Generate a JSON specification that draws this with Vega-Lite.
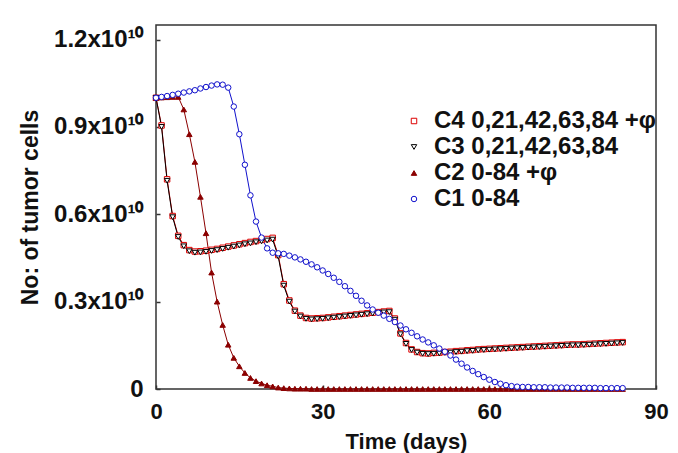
{
  "$schema": "https://vega.github.io/schema/vega-lite/v6.json",
  "width": 500,
  "height": 364,
  "autosize": {"type": "none"},
  "padding": {"left": 156, "top": 25, "right": 22, "bottom": 64},
  "background": "white",
  "config": {
    "view": {"stroke": "#333333", "strokeWidth": 1.5},
    "font": "Liberation Sans",
    "axis": {
      "domain": false,
      "grid": false,
      "labelFont": "Liberation Sans",
      "labelFontWeight": "bold",
      "labelColor": "#111111",
      "titleFont": "Liberation Sans",
      "titleFontWeight": "bold",
      "titleColor": "#111111",
      "tickColor": "#333333",
      "tickSize": -4,
      "tickWidth": 1.5
    },
    "legend": {
      "labelFont": "Liberation Sans",
      "labelFontWeight": "bold",
      "labelFontSize": 24,
      "labelColor": "#111111",
      "labelOffset": 8,
      "labelLimit": 0,
      "rowPadding": 2,
      "symbolSize": 30,
      "symbolStrokeWidth": 1
    }
  },
  "data": {"values": [
{"s":"C4","t":0,"v":1.000},{"s":"C4","t":1,"v":0.905},{"s":"C4","t":2,"v":0.720},{"s":"C4","t":3,"v":0.594},{"s":"C4","t":4,"v":0.526},{"s":"C4","t":5,"v":0.494},{"s":"C4","t":6,"v":0.477},{"s":"C4","t":7,"v":0.472},{"s":"C4","t":8,"v":0.473},{"s":"C4","t":9,"v":0.475},{"s":"C4","t":10,"v":0.478},{"s":"C4","t":11,"v":0.481},{"s":"C4","t":12,"v":0.485},{"s":"C4","t":13,"v":0.489},{"s":"C4","t":14,"v":0.493},{"s":"C4","t":15,"v":0.497},{"s":"C4","t":16,"v":0.501},{"s":"C4","t":17,"v":0.505},{"s":"C4","t":18,"v":0.508},{"s":"C4","t":19,"v":0.512},{"s":"C4","t":20,"v":0.515},{"s":"C4","t":21,"v":0.519},{"s":"C4","t":22,"v":0.460},{"s":"C4","t":23,"v":0.360},{"s":"C4","t":24,"v":0.304},{"s":"C4","t":25,"v":0.269},{"s":"C4","t":26,"v":0.252},{"s":"C4","t":27,"v":0.244},{"s":"C4","t":28,"v":0.242},{"s":"C4","t":29,"v":0.243},{"s":"C4","t":30,"v":0.244},{"s":"C4","t":31,"v":0.246},{"s":"C4","t":32,"v":0.248},{"s":"C4","t":33,"v":0.250},{"s":"C4","t":34,"v":0.252},{"s":"C4","t":35,"v":0.254},{"s":"C4","t":36,"v":0.256},{"s":"C4","t":37,"v":0.258},{"s":"C4","t":38,"v":0.260},{"s":"C4","t":39,"v":0.262},{"s":"C4","t":40,"v":0.264},{"s":"C4","t":41,"v":0.266},{"s":"C4","t":42,"v":0.268},{"s":"C4","t":43,"v":0.242},{"s":"C4","t":44,"v":0.191},{"s":"C4","t":45,"v":0.158},{"s":"C4","t":46,"v":0.136},{"s":"C4","t":47,"v":0.127},{"s":"C4","t":48,"v":0.123},{"s":"C4","t":49,"v":0.122},{"s":"C4","t":50,"v":0.124},{"s":"C4","t":51,"v":0.125},{"s":"C4","t":52,"v":0.127},{"s":"C4","t":53,"v":0.128},{"s":"C4","t":54,"v":0.130},{"s":"C4","t":55,"v":0.131},{"s":"C4","t":56,"v":0.133},{"s":"C4","t":57,"v":0.134},{"s":"C4","t":58,"v":0.136},{"s":"C4","t":59,"v":0.137},{"s":"C4","t":60,"v":0.138},{"s":"C4","t":61,"v":0.139},{"s":"C4","t":62,"v":0.140},{"s":"C4","t":63,"v":0.141},{"s":"C4","t":64,"v":0.142},{"s":"C4","t":65,"v":0.143},{"s":"C4","t":66,"v":0.144},{"s":"C4","t":67,"v":0.145},{"s":"C4","t":68,"v":0.146},{"s":"C4","t":69,"v":0.147},{"s":"C4","t":70,"v":0.148},{"s":"C4","t":71,"v":0.149},{"s":"C4","t":72,"v":0.150},{"s":"C4","t":73,"v":0.151},{"s":"C4","t":74,"v":0.152},{"s":"C4","t":75,"v":0.153},{"s":"C4","t":76,"v":0.153},{"s":"C4","t":77,"v":0.154},{"s":"C4","t":78,"v":0.155},{"s":"C4","t":79,"v":0.156},{"s":"C4","t":80,"v":0.157},{"s":"C4","t":81,"v":0.158},{"s":"C4","t":82,"v":0.159},{"s":"C4","t":83,"v":0.160},{"s":"C4","t":84,"v":0.161},
{"s":"C3","t":0,"v":1.000},{"s":"C3","t":1,"v":0.900},{"s":"C3","t":2,"v":0.715},{"s":"C3","t":3,"v":0.590},{"s":"C3","t":4,"v":0.522},{"s":"C3","t":5,"v":0.490},{"s":"C3","t":6,"v":0.473},{"s":"C3","t":7,"v":0.468},{"s":"C3","t":8,"v":0.469},{"s":"C3","t":9,"v":0.471},{"s":"C3","t":10,"v":0.474},{"s":"C3","t":11,"v":0.477},{"s":"C3","t":12,"v":0.481},{"s":"C3","t":13,"v":0.485},{"s":"C3","t":14,"v":0.489},{"s":"C3","t":15,"v":0.493},{"s":"C3","t":16,"v":0.497},{"s":"C3","t":17,"v":0.500},{"s":"C3","t":18,"v":0.504},{"s":"C3","t":19,"v":0.507},{"s":"C3","t":20,"v":0.510},{"s":"C3","t":21,"v":0.513},{"s":"C3","t":22,"v":0.455},{"s":"C3","t":23,"v":0.355},{"s":"C3","t":24,"v":0.300},{"s":"C3","t":25,"v":0.266},{"s":"C3","t":26,"v":0.249},{"s":"C3","t":27,"v":0.241},{"s":"C3","t":28,"v":0.239},{"s":"C3","t":29,"v":0.240},{"s":"C3","t":30,"v":0.241},{"s":"C3","t":31,"v":0.243},{"s":"C3","t":32,"v":0.245},{"s":"C3","t":33,"v":0.247},{"s":"C3","t":34,"v":0.249},{"s":"C3","t":35,"v":0.251},{"s":"C3","t":36,"v":0.253},{"s":"C3","t":37,"v":0.255},{"s":"C3","t":38,"v":0.257},{"s":"C3","t":39,"v":0.259},{"s":"C3","t":40,"v":0.261},{"s":"C3","t":41,"v":0.263},{"s":"C3","t":42,"v":0.264},{"s":"C3","t":43,"v":0.238},{"s":"C3","t":44,"v":0.188},{"s":"C3","t":45,"v":0.155},{"s":"C3","t":46,"v":0.134},{"s":"C3","t":47,"v":0.125},{"s":"C3","t":48,"v":0.121},{"s":"C3","t":49,"v":0.120},{"s":"C3","t":50,"v":0.121},{"s":"C3","t":51,"v":0.122},{"s":"C3","t":52,"v":0.124},{"s":"C3","t":53,"v":0.125},{"s":"C3","t":54,"v":0.127},{"s":"C3","t":55,"v":0.128},{"s":"C3","t":56,"v":0.130},{"s":"C3","t":57,"v":0.131},{"s":"C3","t":58,"v":0.133},{"s":"C3","t":59,"v":0.134},{"s":"C3","t":60,"v":0.135},{"s":"C3","t":61,"v":0.136},{"s":"C3","t":62,"v":0.137},{"s":"C3","t":63,"v":0.138},{"s":"C3","t":64,"v":0.139},{"s":"C3","t":65,"v":0.140},{"s":"C3","t":66,"v":0.141},{"s":"C3","t":67,"v":0.142},{"s":"C3","t":68,"v":0.143},{"s":"C3","t":69,"v":0.144},{"s":"C3","t":70,"v":0.145},{"s":"C3","t":71,"v":0.146},{"s":"C3","t":72,"v":0.147},{"s":"C3","t":73,"v":0.148},{"s":"C3","t":74,"v":0.149},{"s":"C3","t":75,"v":0.150},{"s":"C3","t":76,"v":0.150},{"s":"C3","t":77,"v":0.151},{"s":"C3","t":78,"v":0.152},{"s":"C3","t":79,"v":0.153},{"s":"C3","t":80,"v":0.154},{"s":"C3","t":81,"v":0.155},{"s":"C3","t":82,"v":0.156},{"s":"C3","t":83,"v":0.157},{"s":"C3","t":84,"v":0.158},
{"s":"C2","t":0,"v":1.000},{"s":"C2","t":1,"v":1.001},{"s":"C2","t":2,"v":1.002},{"s":"C2","t":3,"v":1.003},{"s":"C2","t":4,"v":1.003},{"s":"C2","t":5,"v":0.960},{"s":"C2","t":6,"v":0.875},{"s":"C2","t":7,"v":0.780},{"s":"C2","t":8,"v":0.660},{"s":"C2","t":9,"v":0.535},{"s":"C2","t":10,"v":0.400},{"s":"C2","t":11,"v":0.300},{"s":"C2","t":12,"v":0.220},{"s":"C2","t":13,"v":0.152},{"s":"C2","t":14,"v":0.107},{"s":"C2","t":15,"v":0.078},{"s":"C2","t":16,"v":0.055},{"s":"C2","t":17,"v":0.038},{"s":"C2","t":18,"v":0.027},{"s":"C2","t":19,"v":0.019},{"s":"C2","t":20,"v":0.013},{"s":"C2","t":21,"v":0.009},{"s":"C2","t":22,"v":0.005},{"s":"C2","t":23,"v":0.003},{"s":"C2","t":24,"v":0.002},{"s":"C2","t":25,"v":0.001},{"s":"C2","t":26,"v":0.001},{"s":"C2","t":27,"v":0.001},{"s":"C2","t":28,"v":0.0},{"s":"C2","t":29,"v":0.0},{"s":"C2","t":30,"v":0.0},{"s":"C2","t":31,"v":0.0},{"s":"C2","t":32,"v":0.0},{"s":"C2","t":33,"v":0.0},{"s":"C2","t":34,"v":0.0},{"s":"C2","t":35,"v":0.0},{"s":"C2","t":36,"v":0.0},{"s":"C2","t":37,"v":0.0},{"s":"C2","t":38,"v":0.0},{"s":"C2","t":39,"v":0.0},{"s":"C2","t":40,"v":0.0},{"s":"C2","t":41,"v":0.0},{"s":"C2","t":42,"v":0.0},{"s":"C2","t":43,"v":0.0},{"s":"C2","t":44,"v":0.0},{"s":"C2","t":45,"v":0.0},{"s":"C2","t":46,"v":0.0},{"s":"C2","t":47,"v":0.0},{"s":"C2","t":48,"v":0.0},{"s":"C2","t":49,"v":0.0},{"s":"C2","t":50,"v":0.0},{"s":"C2","t":51,"v":0.0},{"s":"C2","t":52,"v":0.0},{"s":"C2","t":53,"v":0.0},{"s":"C2","t":54,"v":0.0},{"s":"C2","t":55,"v":0.0},{"s":"C2","t":56,"v":0.0},{"s":"C2","t":57,"v":0.0},{"s":"C2","t":58,"v":0.0},{"s":"C2","t":59,"v":0.0},{"s":"C2","t":60,"v":0.0},{"s":"C2","t":61,"v":0.0},{"s":"C2","t":62,"v":0.0},{"s":"C2","t":63,"v":0.0},{"s":"C2","t":64,"v":0.0},{"s":"C2","t":65,"v":0.0},{"s":"C2","t":66,"v":0.0},{"s":"C2","t":67,"v":0.0},{"s":"C2","t":68,"v":0.0},{"s":"C2","t":69,"v":0.0},{"s":"C2","t":70,"v":0.0},{"s":"C2","t":71,"v":0.0},{"s":"C2","t":72,"v":0.0},{"s":"C2","t":73,"v":0.0},{"s":"C2","t":74,"v":0.0},{"s":"C2","t":75,"v":0.0},{"s":"C2","t":76,"v":0.0},{"s":"C2","t":77,"v":0.0},{"s":"C2","t":78,"v":0.0},{"s":"C2","t":79,"v":0.0},{"s":"C2","t":80,"v":0.0},{"s":"C2","t":81,"v":0.0},{"s":"C2","t":82,"v":0.0},{"s":"C2","t":83,"v":0.0},{"s":"C2","t":84,"v":0.0},
{"s":"C1","t":0,"v":1.000},{"s":"C1","t":1,"v":1.003},{"s":"C1","t":2,"v":1.006},{"s":"C1","t":3,"v":1.010},{"s":"C1","t":4,"v":1.014},{"s":"C1","t":5,"v":1.018},{"s":"C1","t":6,"v":1.022},{"s":"C1","t":7,"v":1.026},{"s":"C1","t":8,"v":1.032},{"s":"C1","t":9,"v":1.037},{"s":"C1","t":10,"v":1.042},{"s":"C1","t":11,"v":1.046},{"s":"C1","t":12,"v":1.045},{"s":"C1","t":13,"v":1.035},{"s":"C1","t":14,"v":0.970},{"s":"C1","t":15,"v":0.875},{"s":"C1","t":16,"v":0.770},{"s":"C1","t":17,"v":0.665},{"s":"C1","t":18,"v":0.575},{"s":"C1","t":19,"v":0.520},{"s":"C1","t":20,"v":0.483},{"s":"C1","t":21,"v":0.468},{"s":"C1","t":22,"v":0.466},{"s":"C1","t":23,"v":0.464},{"s":"C1","t":24,"v":0.458},{"s":"C1","t":25,"v":0.452},{"s":"C1","t":26,"v":0.445},{"s":"C1","t":27,"v":0.437},{"s":"C1","t":28,"v":0.428},{"s":"C1","t":29,"v":0.418},{"s":"C1","t":30,"v":0.407},{"s":"C1","t":31,"v":0.395},{"s":"C1","t":32,"v":0.382},{"s":"C1","t":33,"v":0.368},{"s":"C1","t":34,"v":0.353},{"s":"C1","t":35,"v":0.337},{"s":"C1","t":36,"v":0.320},{"s":"C1","t":37,"v":0.303},{"s":"C1","t":38,"v":0.287},{"s":"C1","t":39,"v":0.273},{"s":"C1","t":40,"v":0.262},{"s":"C1","t":41,"v":0.252},{"s":"C1","t":42,"v":0.241},{"s":"C1","t":43,"v":0.230},{"s":"C1","t":44,"v":0.218},{"s":"C1","t":45,"v":0.205},{"s":"C1","t":46,"v":0.193},{"s":"C1","t":47,"v":0.181},{"s":"C1","t":48,"v":0.170},{"s":"C1","t":49,"v":0.160},{"s":"C1","t":50,"v":0.150},{"s":"C1","t":51,"v":0.139},{"s":"C1","t":52,"v":0.128},{"s":"C1","t":53,"v":0.115},{"s":"C1","t":54,"v":0.101},{"s":"C1","t":55,"v":0.087},{"s":"C1","t":56,"v":0.074},{"s":"C1","t":57,"v":0.062},{"s":"C1","t":58,"v":0.051},{"s":"C1","t":59,"v":0.041},{"s":"C1","t":60,"v":0.032},{"s":"C1","t":61,"v":0.024},{"s":"C1","t":62,"v":0.018},{"s":"C1","t":63,"v":0.013},{"s":"C1","t":64,"v":0.010},{"s":"C1","t":65,"v":0.008},{"s":"C1","t":66,"v":0.007},{"s":"C1","t":67,"v":0.007},{"s":"C1","t":68,"v":0.006},{"s":"C1","t":69,"v":0.006},{"s":"C1","t":70,"v":0.006},{"s":"C1","t":71,"v":0.005},{"s":"C1","t":72,"v":0.005},{"s":"C1","t":73,"v":0.005},{"s":"C1","t":74,"v":0.005},{"s":"C1","t":75,"v":0.004},{"s":"C1","t":76,"v":0.004},{"s":"C1","t":77,"v":0.004},{"s":"C1","t":78,"v":0.004},{"s":"C1","t":79,"v":0.004},{"s":"C1","t":80,"v":0.003},{"s":"C1","t":81,"v":0.003},{"s":"C1","t":82,"v":0.003},{"s":"C1","t":83,"v":0.003},{"s":"C1","t":84,"v":0.003}
  ]},
  "encoding": {
    "x": {
      "field": "t", "type": "quantitative",
      "scale": {"domain": [0, 90], "nice": false, "zero": false},
      "axis": {"values": [0, 30, 60, 90], "title": "Time (days)", "labelFontSize": 22, "titleFontSize": 22, "labelPadding": 16, "titlePadding": 9, "labelFlush": false}
    },
    "y": {
      "field": "v", "type": "quantitative",
      "scale": {"domain": [0, 1.25], "nice": false},
      "axis": {"values": [0, 0.3, 0.6, 0.9, 1.2], "title": "No: of tumor cells", "labelFontSize": 24, "titleFontSize": 23, "labelPadding": 17, "titlePadding": 11,
        "labelExpr": "datum.value == 0 ? '0' : format(datum.value, '.1f') + 'x10¹⁰'"}
    }
  },
  "layer": [
    {
      "mark": {"type": "line", "strokeWidth": 1},
      "encoding": {
        "color": {"field": "s", "type": "nominal", "legend": null,
          "scale": {"domain": ["C1", "C2", "C3", "C4"], "range": ["#1010cc", "#8b0000", "#000000", "#dd0000"]}},
        "detail": {"field": "s"}
      }
    },
    {
      "mark": {"type": "point", "opacity": 1, "size": 30, "strokeWidth": 1},
      "encoding": {
        "shape": {"field": "s", "type": "nominal", "title": null,
          "scale": {"domain": ["C4", "C3", "C2", "C1"], "range": ["square", "triangle-down", "triangle-up", "circle"]},
          "legend": {"orient": "none", "legendX": 246, "legendY": 84,
            "labelExpr": "datum.value == 'C4' ? 'C4 0,21,42,63,84 +φ' : datum.value == 'C3' ? 'C3 0,21,42,63,84' : datum.value == 'C2' ? 'C2 0-84 +φ' : 'C1 0-84'"}},
        "stroke": {"field": "s", "type": "nominal", "title": null,
          "scale": {"domain": ["C4", "C3", "C2", "C1"], "range": ["#dd0000", "#000000", "#8b0000", "#1010cc"]},
          "legend": {"orient": "none", "legendX": 246, "legendY": 84,
            "labelExpr": "datum.value == 'C4' ? 'C4 0,21,42,63,84 +φ' : datum.value == 'C3' ? 'C3 0,21,42,63,84' : datum.value == 'C2' ? 'C2 0-84 +φ' : 'C1 0-84'"}},
        "fill": {"field": "s", "type": "nominal", "title": null,
          "scale": {"domain": ["C4", "C3", "C2", "C1"], "range": ["#ffffff", "#ffffff", "#8b0000", "#ffffff"]},
          "legend": {"orient": "none", "legendX": 246, "legendY": 84,
            "labelExpr": "datum.value == 'C4' ? 'C4 0,21,42,63,84 +φ' : datum.value == 'C3' ? 'C3 0,21,42,63,84' : datum.value == 'C2' ? 'C2 0-84 +φ' : 'C1 0-84'"}}
      }
    }
  ]
}
